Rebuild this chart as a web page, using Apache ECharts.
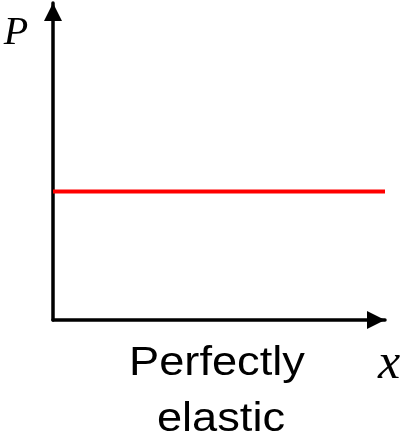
<!DOCTYPE html>
<html>
<head>
<meta charset="utf-8">
<script src="https://cdn.jsdelivr.net/npm/echarts@6/dist/echarts.min.js"></script>
<style>
  html, body { margin: 0; padding: 0; background: #ffffff; }
  #chart { width: 403px; height: 438px; }
</style>
</head>
<body>
<div id="chart"></div>
<script>
// Quantity axis runs 0..10, price axis runs 0..10
const quantityRange = [0, 10];
const priceRange = [0, 10];
// A perfectly elastic supply: one price at every quantity
const quantityPoints = [0, 10];
const pricePoints = [4.05, 4.05];

const chart = echarts.init(document.getElementById('chart'), null, { renderer: 'canvas' });

const axisLine = {
  show: true,
  onZero: false,
  symbol: ['none', 'triangle'],
  symbolSize: [18, 18],
  symbolOffset: [0, -9],
  lineStyle: { color: '#000000', width: 3.5 }
};

chart.setOption({
  animation: false,
  backgroundColor: '#ffffff',
  grid: { left: 53, right: 18, top: 3, bottom: 118, containLabel: false },
  xAxis: {
    type: 'value',
    min: quantityRange[0],
    max: quantityRange[1],
    axisLine: axisLine,
    axisTick: { show: false },
    axisLabel: { show: false },
    splitLine: { show: false }
  },
  yAxis: {
    type: 'value',
    min: priceRange[0],
    max: priceRange[1],
    axisLine: axisLine,
    axisTick: { show: false },
    axisLabel: { show: false },
    splitLine: { show: false }
  },
  series: [{
    type: 'line',
    data: quantityPoints.map((q, i) => [q, pricePoints[i]]),
    showSymbol: false,
    lineStyle: { color: '#ff0000', width: 4 },
    silent: true
  }],
  graphic: [
    {
      type: 'text', x: 16, y: 33,
      style: { text: 'P', fill: '#000', font: 'italic 40px "Liberation Serif"', textAlign: 'center', textVerticalAlign: 'middle' }
    },
    {
      type: 'text', x: 389, y: 365,
      style: { text: 'x', fill: '#000', font: 'italic 50px "Liberation Serif"', textAlign: 'center', textVerticalAlign: 'middle' }
    },
    {
      type: 'text', x: 217, y: 364, scaleX: 1.13,
      style: { text: 'Perfectly', fill: '#000', font: '40px "Liberation Sans"', textAlign: 'center', textVerticalAlign: 'middle' }
    },
    {
      type: 'text', x: 221, y: 420, scaleX: 1.13,
      style: { text: 'elastic', fill: '#000', font: '40px "Liberation Sans"', textAlign: 'center', textVerticalAlign: 'middle' }
    }
  ]
});
</script>
</body>
</html>
